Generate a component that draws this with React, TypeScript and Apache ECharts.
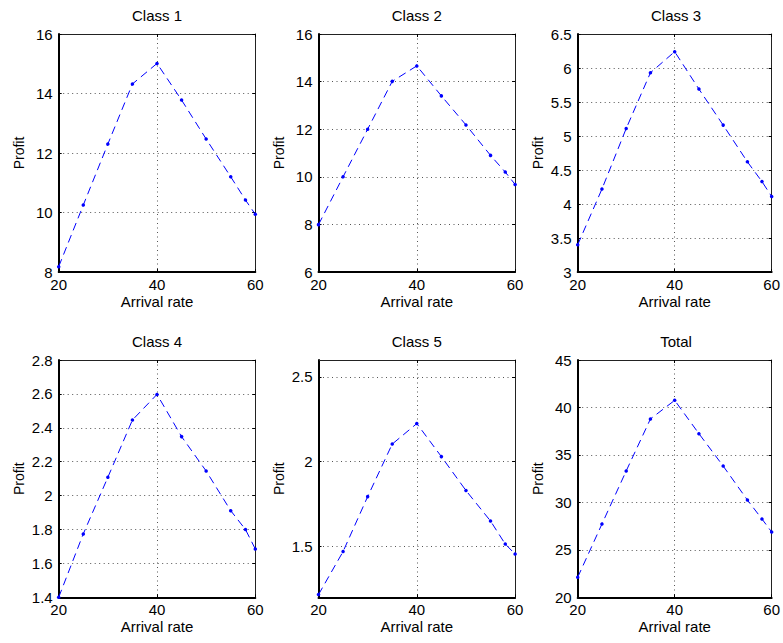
import React, { useEffect, useRef } from "react";
import * as echarts from "echarts";

const arrivalRate = [20, 25, 30, 35, 40, 45, 50, 55, 58, 60];
const xTicks = [20, 40, 60];

const class1 = [8.18, 10.25, 12.3, 14.32, 15.01, 13.78, 12.47, 11.2, 10.42, 9.94];
const class2 = [7.99, 10.0, 12.0, 14.01, 14.66, 13.4, 12.18, 10.9, 10.2, 9.68];
const class3 = [3.4, 4.22, 5.11, 5.93, 6.24, 5.69, 5.16, 4.62, 4.33, 4.11];
const class4 = [1.4, 1.774, 2.108, 2.446, 2.597, 2.348, 2.145, 1.911, 1.8, 1.685];
const class5 = [1.216, 1.47, 1.794, 2.104, 2.225, 2.03, 1.83, 1.65, 1.514, 1.455];
const total = [22.11, 27.72, 33.31, 38.79, 40.75, 37.24, 33.83, 30.25, 28.25, 26.88];

const titles = ["Class 1", "Class 2", "Class 3", "Class 4", "Class 5", "Total"];
const ticks1 = [8, 10, 12, 14, 16];
const ticks2 = [6, 8, 10, 12, 14, 16];
const ticks3 = [3, 3.5, 4, 4.5, 5, 5.5, 6, 6.5];
const ticks4 = [1.4, 1.6, 1.8, 2, 2.2, 2.4, 2.6, 2.8];
const ticks5 = [1.5, 2, 2.5];
const ticks6 = [20, 25, 30, 35, 40, 45];
const yRanges = [
  [8, 16],
  [6, 16],
  [3, 6.5],
  [1.4, 2.8],
  [1.2, 2.6],
  [20, 45],
];

const seriesData = [class1, class2, class3, class4, class5, total];
const yTickSets = [ticks1, ticks2, ticks3, ticks4, ticks5, ticks6];

const FONT = "'Liberation Sans', Arial, Helvetica, sans-serif";

export default function App() {
  const ref = useRef<HTMLDivElement>(null);

  useEffect(() => {
    if (!ref.current) return;
    const chart = echarts.init(ref.current, undefined, { renderer: "svg" });

    const lefts = [58.7, 318.5, 577.7];
    const tops = [34, 360];
    const W = 196.6;
    const Hs = [238, 237.3];

    const grids: any[] = [];
    const xAxes: any[] = [];
    const yAxes: any[] = [];
    const series: any[] = [];
    const titleArr: any[] = [];

    for (let i = 0; i < 6; i++) {
      const row = Math.floor(i / 3);
      const col = i % 3;
      const left = lefts[col];
      const top = tops[row];
      const height = Hs[row];
      grids.push({ left, top, width: W, height, containLabel: false });
      titleArr.push({
        text: titles[i],
        left: left + W / 2,
        top: top - 26,
        textAlign: "center",
        padding: 0,
        textStyle: { fontFamily: FONT, fontSize: 15, fontWeight: "normal", color: "#000" },
      });
      const [ymin, ymax] = yRanges[i];
      const yt = yTickSets[i];
      xAxes.push({
        type: "value",
        gridIndex: i,
        position: "bottom",
        min: 20,
        max: 60,
        name: "Arrival rate",
        nameLocation: "middle",
        nameGap: 22,
        nameTextStyle: { fontFamily: FONT, fontSize: 15, color: "#000" },
        axisLine: { show: true, onZero: false, lineStyle: { color: "#000", width: 2 } },
        axisTick: { show: true, inside: true, length: 3, customValues: xTicks, lineStyle: { color: "#000" } },
        axisLabel: { show: true, customValues: xTicks, margin: 5, fontFamily: FONT, fontSize: 15, color: "#000" },
        splitLine: { show: true, lineStyle: { type: [1, 3.5], color: "#555", width: 1 } },
      });
      xAxes.push({
        type: "value",
        gridIndex: i,
        position: "top",
        min: 20,
        max: 60,
        axisLine: { show: true, onZero: false, lineStyle: { color: "#222", width: 1 } },
        axisTick: { show: true, inside: true, length: 3, customValues: xTicks, lineStyle: { color: "#000" } },
        axisLabel: { show: false },
        splitLine: { show: false },
      });
      yAxes.push({
        type: "value",
        gridIndex: i,
        position: "left",
        min: ymin,
        max: ymax,
        name: "Profit",
        nameLocation: "middle",
        nameGap: 33,
        nameTextStyle: { fontFamily: FONT, fontSize: 14, color: "#000" },
        axisLine: { show: true, onZero: false, lineStyle: { color: "#000", width: 2 } },
        axisTick: { show: true, inside: true, length: 3, customValues: yt, lineStyle: { color: "#000" } },
        axisLabel: { show: true, customValues: yt, margin: 6, fontFamily: FONT, fontSize: 15, color: "#000" },
        splitLine: { show: true, lineStyle: { type: [1, 3.5], color: "#555", width: 1 } },
      });
      yAxes.push({
        type: "value",
        gridIndex: i,
        position: "right",
        min: ymin,
        max: ymax,
        axisLine: { show: true, onZero: false, lineStyle: { color: "#222", width: 1 } },
        axisTick: { show: true, inside: true, length: 3, customValues: yt, lineStyle: { color: "#000" } },
        axisLabel: { show: false },
        splitLine: { show: false },
      });
      series.push({
        type: "line",
        xAxisIndex: 2 * i,
        yAxisIndex: 2 * i,
        data: arrivalRate.map((x, k) => [x, seriesData[i][k]]),
        symbol: "circle",
        symbolSize: 3.5,
        showSymbol: true,
        clip: false,
        itemStyle: { color: "#0000ff" },
        lineStyle: { color: "#0000ff", width: 1, type: [8, 5] },
        z: 3,
      });
    }

    chart.setOption({
      animation: false,
      backgroundColor: "#fff",
      title: titleArr,
      grid: grids,
      xAxis: xAxes,
      yAxis: yAxes,
      series,
    });

    return () => {
      chart.dispose();
    };
  }, []);

  return (
    <div
      ref={ref}
      style={{ position: "fixed", left: 0, top: 0, width: 783, height: 643, background: "#fff" }}
    />
  );
}
